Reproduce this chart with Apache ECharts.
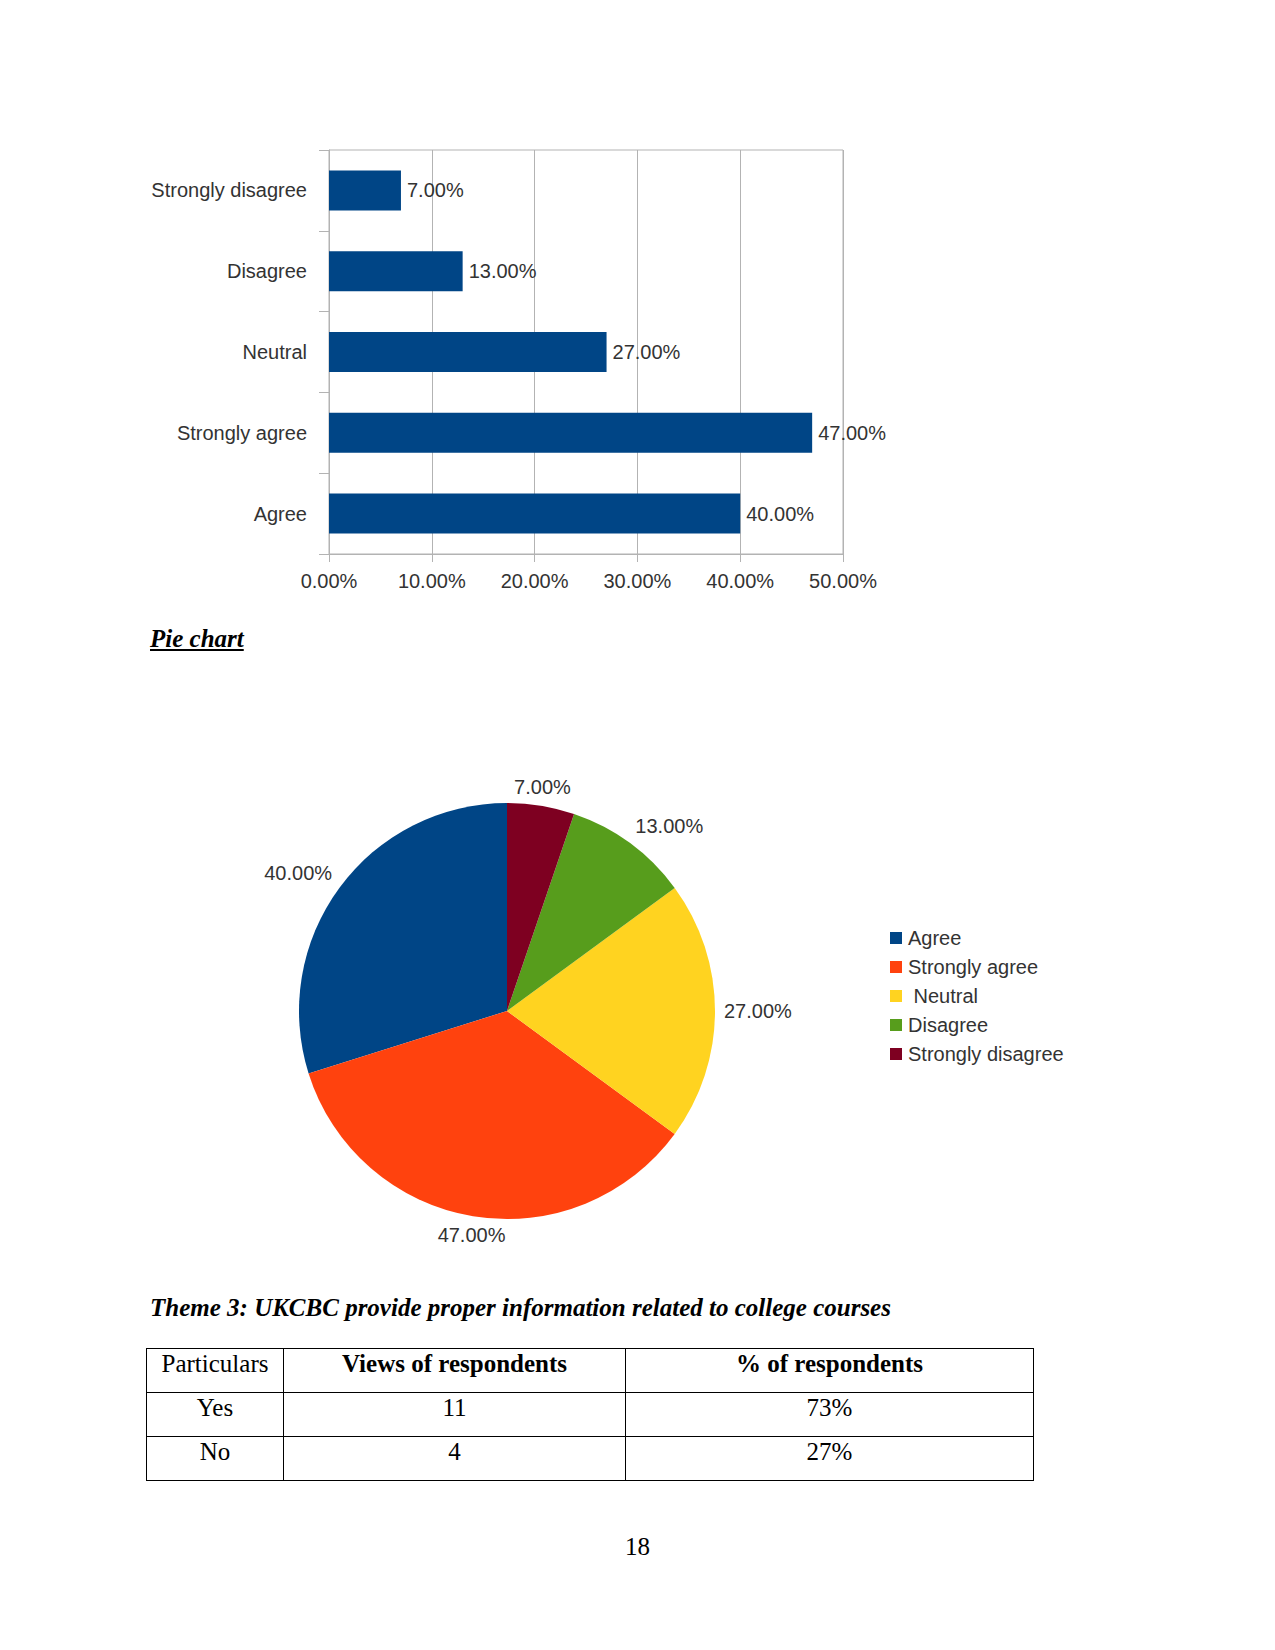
<!DOCTYPE html>
<html>
<head>
<meta charset="utf-8">
<script src="https://cdn.jsdelivr.net/npm/echarts@6/dist/echarts.min.js"></script>
<style>
  html, body { margin: 0; padding: 0; background: #fff; }
  #page { position: relative; width: 1275px; height: 1650px; overflow: hidden; }
  #chart { position: absolute; left: 0; top: 0; width: 1275px; height: 1650px; }
  .serif { font-family: "Liberation Serif", "Times New Roman", serif; font-size: 25px; line-height: 29px; color: #000; position: absolute; white-space: nowrap; }
  table { position: absolute; left: 146px; top: 1348px; border-collapse: collapse; font-family: "Liberation Serif", "Times New Roman", serif; font-size: 25px; }
  td { border: 1px solid #000; height: 43px; padding: 0; vertical-align: top; text-align: center; line-height: 29px; }
</style>
</head>
<body>
<div id="page">
  <div id="chart"></div>
  <div class="serif" style="left:150px; top:624px; font-weight:bold; font-style:italic; text-decoration:underline;">Pie chart</div>
  <div class="serif" style="left:150px; top:1293px; font-weight:bold; font-style:italic;">Theme 3: UKCBC provide proper information related to college courses</div>
  <table>
    <tr><td style="width:136px">Particulars</td><td style="width:341px; font-weight:bold">Views of respondents</td><td style="width:407px; font-weight:bold">% of respondents</td></tr>
    <tr><td>Yes</td><td>11</td><td>73%</td></tr>
    <tr><td>No</td><td>4</td><td>27%</td></tr>
  </table>
  <div class="serif" style="left:0; width:1275px; text-align:center; top:1532px;">18</div>
</div>
<script>
// Bar chart (bottom to top)
var barCategories = ['Agree', 'Strongly agree', 'Neutral', 'Disagree', 'Strongly disagree'];
var barValues = [40, 47, 27, 13, 7];
var xTicks = [0, 10, 20, 30, 40, 50];

// Pie chart (legend order)
var pieCategories = ['Agree', 'Strongly agree', ' Neutral', 'Disagree', 'Strongly disagree'];
var pieValues = [40, 47, 27, 13, 7];
var pieColors = ['#004586', '#ff420e', '#ffd320', '#579d1c', '#7e0021'];

var FONT = '"Liberation Sans", Arial, sans-serif';
var TXT = '#333333';
var GRID = '#b3b3b3';

var pieCx = 507, pieCy = 1011, pieR = 208, labelGap = 9;
var pieTotal = pieValues.reduce(function (a, b) { return a + b; }, 0);
function midAngle(i) {
  var acc = 0;
  for (var k = 0; k < i; k++) acc += pieValues[k];
  var a0 = 90 + acc / pieTotal * 360;
  var a1 = 90 + (acc + pieValues[i]) / pieTotal * 360;
  return (a0 + a1) / 2 * Math.PI / 180;
}

var chart = echarts.init(document.getElementById('chart'), null, { renderer: 'svg' });
chart.setOption({
  animation: false,
  textStyle: { fontFamily: FONT },
  grid: { left: 329, top: 150, width: 514, height: 404, show: true, borderColor: GRID, borderWidth: 1, containLabel: false },
  xAxis: {
    type: 'value', min: xTicks[0], max: xTicks[xTicks.length - 1], interval: 10,
    axisLine: { show: true, lineStyle: { color: GRID } },
    axisTick: { show: true, length: 8, lineStyle: { color: GRID } },
    splitLine: { show: true, lineStyle: { color: GRID } },
    axisLabel: { color: TXT, fontSize: 20, fontFamily: FONT, margin: 17, formatter: function (v) { return v.toFixed(2) + '%'; } }
  },
  yAxis: {
    type: 'category', data: barCategories,
    axisLine: { show: true, lineStyle: { color: GRID } },
    axisTick: { show: true, length: 10, lineStyle: { color: GRID } },
    splitLine: { show: false },
    axisLabel: { color: TXT, fontSize: 20, fontFamily: FONT, margin: 22 }
  },
  legend: {
    orient: 'vertical', left: 885, top: 923, itemWidth: 12, itemHeight: 12, itemGap: 9,
    icon: 'rect', data: pieCategories,
    textStyle: { color: TXT, fontSize: 20, fontFamily: FONT, padding: [0, 0, 0, 1] }
  },
  series: [
    {
      type: 'bar', data: barValues, barWidth: 40,
      itemStyle: { color: '#004586' },
      label: { show: true, position: 'right', distance: 6, color: TXT, fontSize: 20, fontFamily: FONT,
        formatter: function (p) { return p.value.toFixed(2) + '%'; } }
    },
    {
      type: 'pie', center: [pieCx, pieCy], radius: pieR, startAngle: 90, clockwise: false,
      data: pieCategories.map(function (n, i) { return { name: n, value: pieValues[i], itemStyle: { color: pieColors[i] } }; }),
      label: { show: true, position: 'outside', color: TXT, fontSize: 20, fontFamily: FONT,
        formatter: function (p) { return p.value.toFixed(2) + '%'; } },
      labelLine: { show: false, length: 8, length2: 0 },
      labelLayout: function (params) {
        var a = midAngle(params.dataIndex);
        var c = Math.cos(a), s = Math.sin(a);
        var x = pieCx + (pieR + labelGap) * c;
        var y = pieCy - (pieR + labelGap) * s;
        var align = Math.abs(c) < 0.3 ? 'center' : (c > 0 ? 'left' : 'right');
        var va = Math.abs(s) < 0.3 ? 'middle' : (s > 0 ? 'bottom' : 'top');
        return { x: x, y: y, align: align, verticalAlign: va };
      },
      emphasis: { disabled: true }
    }
  ]
});
</script>
</body>
</html>
